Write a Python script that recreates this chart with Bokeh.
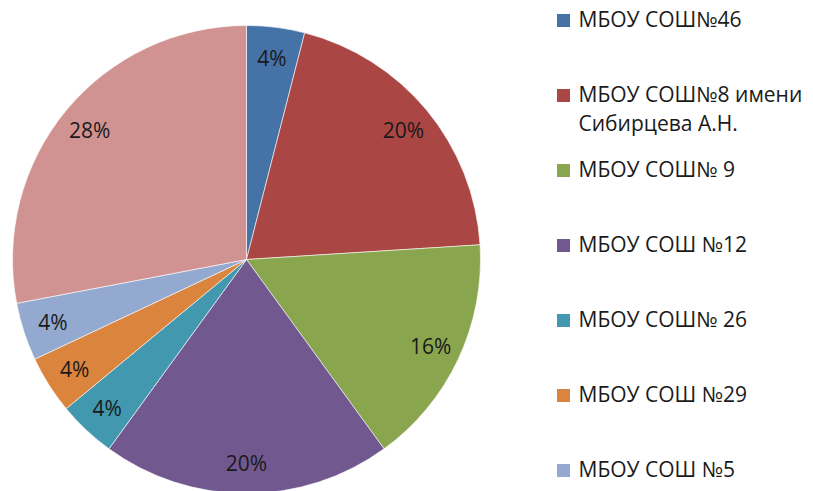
import math
from bokeh.plotting import figure
from bokeh.models import ColumnDataSource, Range1d
from bokeh.core.properties import value
from bokeh.embed import file_html
from bokeh.resources import INLINE

# ---- data ----
schools = [
    "МБОУ СОШ№46",
    "МБОУ СОШ№8 имени\nСибирцева А.Н.",
    "МБОУ СОШ№ 9",
    "МБОУ СОШ №12",
    "МБОУ СОШ№ 26",
    "МБОУ СОШ №29",
    "МБОУ СОШ №5",
    "",
]
shares = [4, 20, 16, 20, 4, 4, 4, 28]
colors = ["#4572A7", "#AA4643", "#89A54E", "#71588F", "#4198AF", "#DB843D", "#93A9CF", "#D19392"]

W, H = 813, 491
FONT = "Open Sans"

cx, cy_px, R = 246, 259, 234
cy = H - cy_px

total = sum(shares)
starts, ends, lx, ly, labels = [], [], [], [], []
acc = 0.0
for v in shares:
    a0 = acc / total * 2 * math.pi
    acc += v
    a1 = acc / total * 2 * math.pi
    starts.append(math.pi / 2 - a0)
    ends.append(math.pi / 2 - a1)
    mid = (a0 + a1) / 2
    lr = 0.87 * R
    lx.append(cx + lr * math.sin(mid))
    ly.append(cy + lr * math.cos(mid))
    labels.append(f"{round(v / total * 100)}%")

src = ColumnDataSource(dict(start=starts, end=ends, color=colors,
                            lx=lx, ly=ly, label=labels))

p = figure(width=W, height=H, x_range=Range1d(0, W), y_range=Range1d(0, H),
           output_backend="svg", toolbar_location=None, min_border=0)
p.axis.visible = False
p.grid.visible = False
p.outline_line_color = None
p.background_fill_color = "white"

p.wedge(x=cx, y=cy, radius=R, start_angle="start", end_angle="end",
        direction="clock", fill_color="color", line_color="white",
        line_width=0.6, source=src)

p.text(x="lx", y="ly", text="label", source=src, text_align="center",
       text_baseline="middle", text_font=value(FONT), text_font_size="21px",
       text_color="#1a1a1a")

# legend (first seven entries visible)
n_leg = 7
leg_y = [H - (20 + 75 * i) for i in range(n_leg)]
leg_src = ColumnDataSource(dict(x=[563] * n_leg, y=leg_y, color=colors[:n_leg],
                                tx=[578] * n_leg, ty=[yy + 16 for yy in leg_y],
                                name=schools[:n_leg]))
p.rect(x="x", y="y", width=13, height=13, fill_color="color", line_color=None,
       source=leg_src)
p.text(x="tx", y="ty", text="name", source=leg_src, text_align="left",
       text_baseline="top", text_font=value(FONT), text_font_size="21px",
       text_color="#1a1a1a", text_line_height=1.05)

open("out.html", "w").write(file_html(p, INLINE))
